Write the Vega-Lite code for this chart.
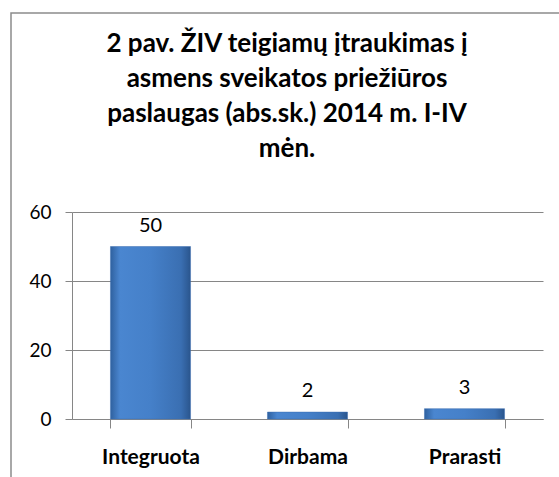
{
  "$schema": "https://vega.github.io/schema/vega-lite/v6.json",
  "autosize": "none",
  "padding": {"left": 11, "top": 13, "right": 0, "bottom": 0},
  "width": 560,
  "height": 480,
  "background": "white",
  "title": {
    "text": ["2 pav. ŽIV teigiamų  įtraukimas į", "asmens sveikatos priežiūros", "paslaugas (abs.sk.) 2014  m. I-IV", "mėn."],
    "font": "Lato",
    "fontSize": 26,
    "fontWeight": "bold",
    "color": "black",
    "lineHeight": 35,
    "anchor": "middle",
    "frame": "group",
    "baseline": "top",
    "offset": -149,
    "dx": -4
  },
  "data": {"values": [
    {"category": "Integruota", "value": 50},
    {"category": "Dirbama", "value": 2},
    {"category": "Prarasti", "value": 3}
  ]},
  "config": {
    "view": {"stroke": "#8c8c8c", "strokeWidth": 1.5},
    "axis": {"domainColor": "#868686", "tickColor": "#868686", "gridColor": "#868686", "labelColor": "black", "labelFont": "Lato"}
  },
  "encoding": {
    "x": {
      "field": "category", "type": "nominal", "sort": null,
      "scale": {"range": [61, 532], "paddingInner": 0.49, "paddingOuter": 0.245},
      "axis": {"title": null, "labelAngle": 0, "labelFontSize": 21, "labelFontWeight": "bold", "labelPadding": 18, "tickBand": "extent", "tickSize": 9, "domainWidth": 1, "offset": -74, "grid": false}
    },
    "y": {
      "field": "value", "type": "quantitative",
      "scale": {"domain": [0, 60], "range": [406, 199], "nice": false},
      "axis": {"title": null, "values": [0, 20, 40, 60], "labelFontSize": 19, "labelPadding": 14, "tickSize": 7, "grid": true, "gridWidth": 1, "offset": -61}
    }
  },
  "layer": [
    {
      "mark": {
        "type": "bar",
        "fill": {"gradient": "linear", "x1": 0, "x2": 1, "y1": 0, "y2": 0, "stops": [
          {"offset": 0, "color": "#2f619f"},
          {"offset": 0.12, "color": "#4a86d0"},
          {"offset": 0.5, "color": "#4580c9"},
          {"offset": 0.88, "color": "#3a6fb2"},
          {"offset": 1, "color": "#2a558d"}
        ]},
        "stroke": "#3a6db0",
        "strokeWidth": 0.5
      }
    },
    {
      "mark": {"type": "text", "baseline": "bottom", "dy": -11, "font": "Lato", "fontSize": 20, "color": "black"},
      "encoding": {"text": {"field": "value", "type": "quantitative"}}
    }
  ]
}
